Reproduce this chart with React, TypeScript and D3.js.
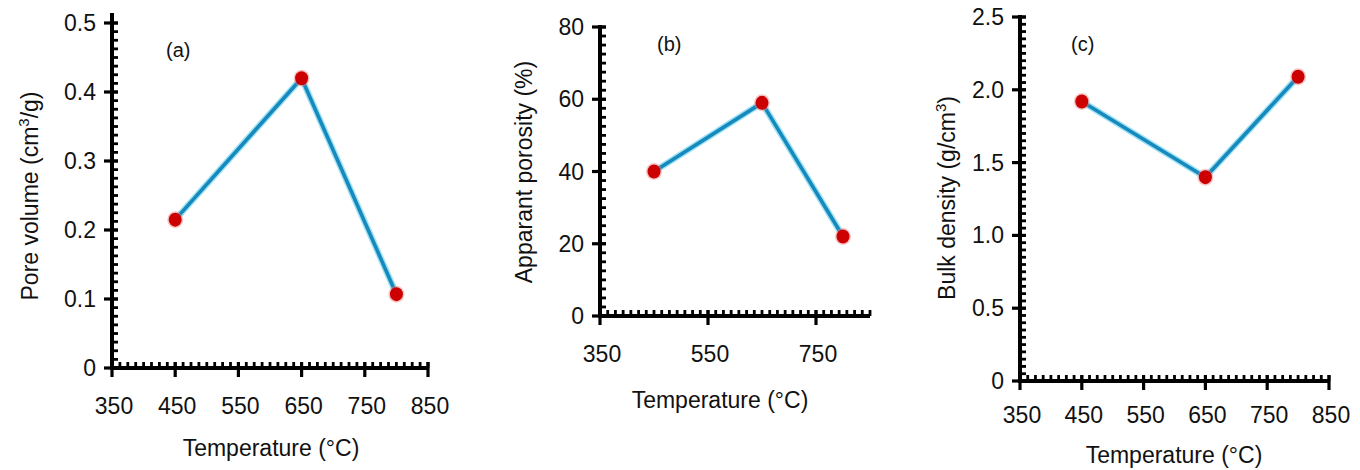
import React from "react";
import * as d3 from "d3";

const temperatures = [450, 650, 800];
const poreVolume = [0.215, 0.42, 0.107];
const apparentPorosity = [40, 59, 22];
const bulkDensity = [1.92, 1.4, 2.09];

const xTicksA = [350, 450, 550, 650, 750, 850];
const xTicksB = [350, 550, 750];
const xTicksC = [350, 450, 550, 650, 750, 850];
const yTicksA = [0, 0.1, 0.2, 0.3, 0.4, 0.5];
const yTicksB = [0, 20, 40, 60, 80];
const yTicksC = [0, 0.5, 1.0, 1.5, 2.0, 2.5];
const yLabelsA = ["0", "0.1", "0.2", "0.3", "0.4", "0.5"];
const yLabelsB = ["0", "20", "40", "60", "80"];
const yLabelsC = ["0", "0.5", "1.0", "1.5", "2.0", "2.5"];

const FONT = "'Liberation Sans', Arial, Helvetica, sans-serif";
const FS = 23;

type PanelProps = {
  xRange: [number, number];
  yRange: [number, number];
  yMax: number;
  values: number[];
  xTicks: number[];
  yTicks: number[];
  yLabels: string[];
  xMinorPerMajor: number;
  xMajorStep: number;
  yMinorPerMajor: number;
  yMajorStep: number;
  axisTopExtra: number;
  letter: string;
  letterPos: [number, number];
  yTitle: React.ReactNode;
  yTitlePos: [number, number];
  xTitlePos: [number, number];
  xLabelDy: number;
};

function Panel(p: PanelProps) {
  const x = d3.scaleLinear().domain([350, 850]).range(p.xRange);
  const y = d3.scaleLinear().domain([0, p.yMax]).range(p.yRange);
  const x0 = x(350);
  const y0 = y(0);
  const xMinorStep = p.xMajorStep / p.xMinorPerMajor;
  const xMinor = d3.range(350, 850 + 1e-6, xMinorStep);
  const yMinorStep = p.yMajorStep / p.yMinorPerMajor;
  const yMinor = d3.range(0, p.yMax + 1e-6, yMinorStep);
  const pts = temperatures.map((t, i) => [x(t), y(p.values[i])] as [number, number]);
  const line = d3.line()(pts) || "";
  return (
    <g>
      {/* minor ticks */}
      {xMinor.map((v, i) => (
        <line key={"xm" + i} x1={x(v)} x2={x(v)} y1={y0} y2={y0 - 6} stroke="#000" strokeWidth={2.8} />
      ))}
      {yMinor.map((v, i) => (
        <line key={"ym" + i} x1={x0} x2={x0 + 6} y1={y(v)} y2={y(v)} stroke="#000" strokeWidth={2.8} />
      ))}
      {/* major ticks */}
      {p.xTicks.map((v, i) => (
        <line key={"xM" + i} x1={x(v)} x2={x(v)} y1={y0 - 6} y2={y0 + 9} stroke="#000" strokeWidth={3.2} />
      ))}
      {p.yTicks.map((v, i) => (
        <line key={"yM" + i} x1={x0 - 8} x2={x0 + 6} y1={y(v)} y2={y(v)} stroke="#000" strokeWidth={3.2} />
      ))}
      {/* axis lines */}
      <line x1={x0} x2={x0} y1={y0 + 2} y2={y(p.yMax) - p.axisTopExtra} stroke="#000" strokeWidth={4} />
      <line x1={x0 - 2} x2={x(850)} y1={y0} y2={y0} stroke="#000" strokeWidth={4} />
      {/* tick labels */}
      {p.xTicks.map((v, i) => (
        <text key={"xl" + i} x={x(v) + 2} y={y0 + p.xLabelDy} textAnchor="middle" fontSize={FS} fontFamily={FONT} fill="#111">
          {v}
        </text>
      ))}
      {p.yTicks.map((v, i) => (
        <text key={"yl" + i} x={x0 - 16} y={y(v) + 8} textAnchor="end" fontSize={FS} fontFamily={FONT} fill="#111">
          {p.yLabels[i]}
        </text>
      ))}
      {/* data */}
      <path d={line} fill="none" stroke="#9fe2f5" strokeWidth={6.5} strokeLinejoin="round" />
      <path d={line} fill="none" stroke="#1689bd" strokeWidth={3.6} strokeLinejoin="round" />
      {pts.map((pt, i) => (
        <g key={"pt" + i}>
          <ellipse cx={pt[0]} cy={pt[1]} rx={8} ry={8.5} fill="#f08080" opacity={0.45} />
          <ellipse cx={pt[0]} cy={pt[1]} rx={6.5} ry={7} fill="#cc0000" />
        </g>
      ))}
      {/* letter */}
      <text x={p.letterPos[0]} y={p.letterPos[1]} fontSize={20} fontFamily={FONT} fill="#111">
        {p.letter}
      </text>
      {/* titles */}
      <text
        transform={`translate(${p.yTitlePos[0]},${p.yTitlePos[1]}) rotate(-90)`}
        textAnchor="middle"
        fontSize={FS}
        fontFamily={FONT}
        fill="#111"
      >
        {p.yTitle}
      </text>
      <text x={p.xTitlePos[0]} y={p.xTitlePos[1]} textAnchor="middle" fontSize={FS} fontFamily={FONT} fill="#111">
        Temperature (°C)
      </text>
    </g>
  );
}

export default function App() {
  return (
    <svg
      width={1360}
      height={470}
      style={{ position: "absolute", left: 0, top: 0, display: "block", background: "#fff" }}
    >
      <rect width={1360} height={470} fill="#fff" />
      <Panel
        xRange={[112, 428]}
        yRange={[368, 23]}
        yMax={0.5}
        values={poreVolume}
        xTicks={xTicksA}
        yTicks={yTicksA}
        yLabels={yLabelsA}
        xMinorPerMajor={8}
        xMajorStep={100}
        yMinorPerMajor={8}
        yMajorStep={0.1}
        axisTopExtra={10}
        letter="(a)"
        letterPos={[166, 57]}
        yTitle={
          <>
            Pore volume (cm
            <tspan dy={-9} fontSize={15}>3</tspan>
            <tspan dy={9}>/g)</tspan>
          </>
        }
        yTitlePos={[38, 196]}
        xTitlePos={[271, 456]}
        xLabelDy={46}
      />
      <Panel
        xRange={[600, 870]}
        yRange={[316, 27]}
        yMax={80}
        values={apparentPorosity}
        xTicks={xTicksB}
        yTicks={yTicksB}
        yLabels={yLabelsB}
        xMinorPerMajor={14}
        xMajorStep={200}
        yMinorPerMajor={8}
        yMajorStep={20}
        axisTopExtra={2}
        letter="(b)"
        letterPos={[657, 51]}
        yTitle={<>Apparant porosity (%)</>}
        yTitlePos={[532, 172]}
        xTitlePos={[720, 408]}
        xLabelDy={46}
      />
      <Panel
        xRange={[1020, 1329]}
        yRange={[381, 17]}
        yMax={2.5}
        values={bulkDensity}
        xTicks={xTicksC}
        yTicks={yTicksC}
        yLabels={yLabelsC}
        xMinorPerMajor={8}
        xMajorStep={100}
        yMinorPerMajor={10}
        yMajorStep={0.5}
        axisTopExtra={2}
        letter="(c)"
        letterPos={[1071, 51]}
        yTitle={
          <>
            Bulk density (g/cm
            <tspan dy={-9} fontSize={15}>3</tspan>
            <tspan dy={9}>)</tspan>
          </>
        }
        yTitlePos={[955, 198]}
        xTitlePos={[1174, 463]}
        xLabelDy={42}
      />
    </svg>
  );
}
